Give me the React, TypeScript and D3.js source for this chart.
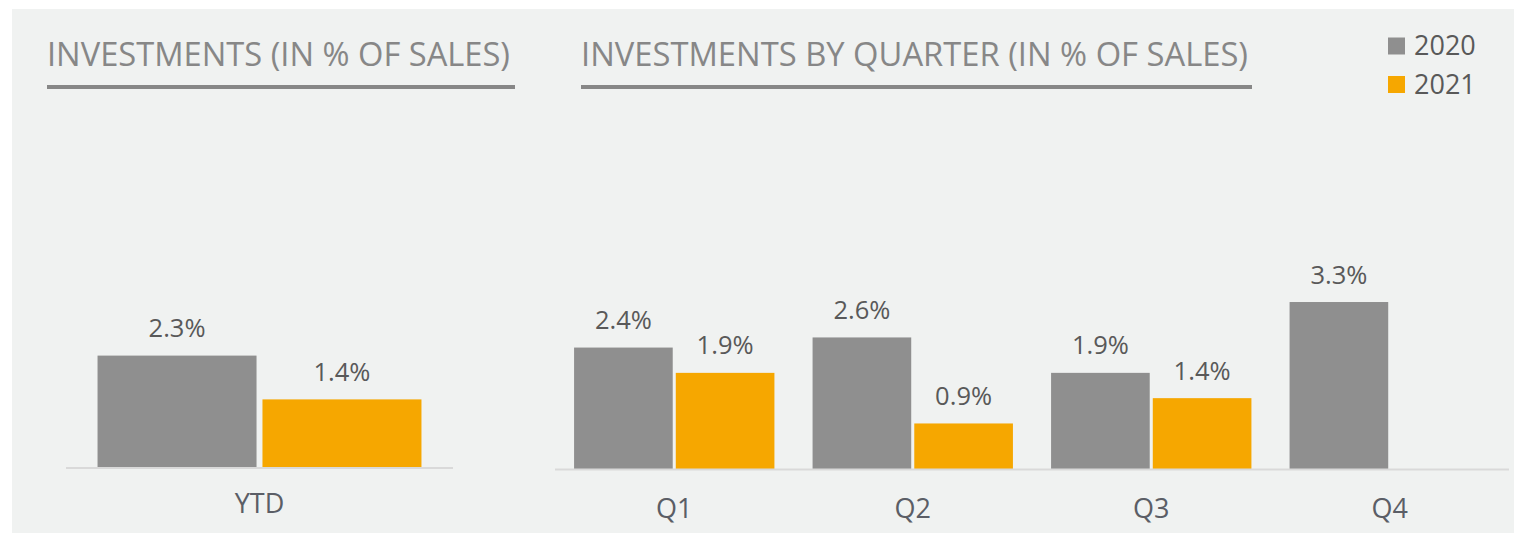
import * as d3 from "d3";

// chart data
const years = ["2020", "2021"];
const ytdCategories = ["YTD"];
const ytd2020 = [2.3];
const ytd2021 = [1.4];
const quarters = ["Q1", "Q2", "Q3", "Q4"];
const quarter2020 = [2.4, 2.6, 1.9, 3.3];
const quarter2021: (number | null)[] = [1.9, 0.9, 1.4, null];

const titleLeft = "INVESTMENTS (IN % OF SALES)";
const titleRight = "INVESTMENTS BY QUARTER (IN % OF SALES)";

const WIDTH = 1514;
const HEIGHT = 533;
const FONT = "'Open Sans', 'Noto Sans', sans-serif";
const colors: Record<string, string> = { "2020": "#8f8f8f", "2021": "#f6a700" };

type Panel = {
  cats: string[];
  s2020: (number | null)[];
  s2021: (number | null)[];
  x0: [number, number];
  base: number;
  pxPerPct: number;
  outerPad: number;
  innerPad: number;
  catBaseline: number;
};

const BarPanel = ({ p }: { p: Panel }) => {
  const x = d3.scaleBand().domain(p.cats).range(p.x0).paddingInner(p.outerPad).paddingOuter(p.outerPad / 2);
  const x1 = d3.scaleBand().domain(years).range([0, x.bandwidth()]).paddingInner(p.innerPad);
  const y = d3.scaleLinear().domain([0, 4]).range([p.base, p.base - 4 * p.pxPerPct]);

  const rows = p.cats.map((c, i) => ({
    cat: c,
    vals: [
      { year: "2020", v: p.s2020[i] },
      { year: "2021", v: p.s2021[i] },
    ],
  }));

  return (
    <g>
      {rows.map((r) => (
        <g key={r.cat} transform={`translate(${x(r.cat)},0)`}>
          {r.vals
            .filter((d) => d.v != null)
            .map((d) => (
              <g key={d.year}>
                <rect
                  x={x1(d.year)}
                  y={y(d.v as number)}
                  width={x1.bandwidth()}
                  height={y(0) - y(d.v as number)}
                  fill={colors[d.year]}
                />
                <text
                  x={(x1(d.year) as number) + x1.bandwidth() / 2}
                  y={y(d.v as number) - 18.5}
                  textAnchor="middle"
                  fontSize={25.5}
                  fill="#595959"
                >
                  {`${(d.v as number).toFixed(1)}%`}
                </text>
              </g>
            ))}
          <text
            x={x.bandwidth() / 2}
            y={p.catBaseline}
            textAnchor="middle"
            fontSize={27}
            fill="#5b5e66"
          >
            {r.cat}
          </text>
        </g>
      ))}
      <line x1={p.x0[0]} x2={p.x0[1]} y1={p.base + 0.5} y2={p.base + 0.5} stroke="#d9d9d9" strokeWidth={2} />
    </g>
  );
};

const App = () => {
  const left: Panel = {
    cats: ytdCategories,
    s2020: ytd2020,
    s2021: ytd2021,
    x0: [66, 453],
    base: 467.5,
    pxPerPct: 48.65,
    outerPad: 0.163,
    innerPad: 0.036,
    catBaseline: 513,
  };
  const right: Panel = {
    cats: quarters,
    s2020: quarter2020,
    s2021: quarter2021,
    x0: [555, 1509],
    base: 469,
    pxPerPct: 50.6,
    outerPad: 0.16,
    innerPad: 0.03,
    catBaseline: 518,
  };

  return (
    <svg
      width={WIDTH}
      height={HEIGHT}
      style={{ position: "absolute", left: 0, top: 0, fontFamily: FONT }}
    >
      <rect x={0} y={0} width={WIDTH} height={HEIGHT} fill="#ffffff" />
      <rect x={12} y={9} width={WIDTH - 12} height={HEIGHT - 9} fill="#f0f2f1" />

      {/* titles */}
      <text x={47} y={66} fontSize={32} fill="#878787" textLength={463} lengthAdjust="spacingAndGlyphs">
        {titleLeft}
      </text>
      <rect x={47} y={85} width={468} height={4} fill="#878787" />
      <text x={581} y={66} fontSize={32} fill="#878787" textLength={667} lengthAdjust="spacingAndGlyphs">
        {titleRight}
      </text>
      <rect x={581} y={85} width={671} height={4} fill="#878787" />

      {/* legend */}
      {years.map((yr, i) => (
        <g key={yr} transform={`translate(1388,${37 + i * 38.5})`}>
          <rect x={0} y={0.5} width={17} height={17} fill={colors[yr]} />
          <text x={26} y={18} fontSize={27} fill="#595959">
            {yr}
          </text>
        </g>
      ))}

      <BarPanel p={left} />
      <BarPanel p={right} />
    </svg>
  );
};

export default App;
